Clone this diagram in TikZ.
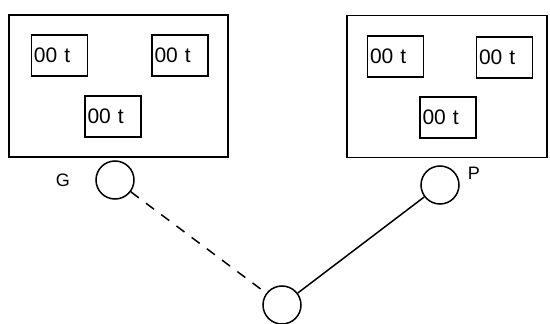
\documentclass[tikz,border=0pt]{standalone}
\usepackage{fontspec}
\setmainfont{Liberation Sans}
\usetikzlibrary{positioning}

\begin{document}
\begin{tikzpicture}[x=1pt,y=-1pt,line width=1.5pt,
    bigbox/.style={draw,minimum width=#1,minimum height=142pt,inner sep=0pt},
    unitbox/.style={draw,text width=51pt,inner xsep=2.5pt,minimum height=41pt,align=left,
      font=\fontsize{21}{24}\selectfont},
    station/.style={draw,circle,minimum size=38pt,inner sep=0pt},
    tag/.style={font=\fontsize{18}{21}\selectfont}]
  \useasboundingbox (0,0) rectangle (550,324);
  % left group
  \node[bigbox=219pt] (gbox) at (118.5,86) {};
  \node[unitbox] (g1) at (59.5,55.5) {00 t};
  \node[unitbox] (g2) at (180,55.5) {00 t};
  \node[unitbox] (g3) at (113,116.5) {00 t};
  % right group
  \node[bigbox=200pt] (pbox) at (447,86.5) {};
  \node[unitbox] (p1) at (395.5,56.5) {00 t};
  \node[unitbox] (p2) at (504.5,57.5) {00 t};
  \node[unitbox] (p3) at (448,117.5) {00 t};
  % stations
  \node[station] (g) at (115,180) {};
  \node[station] (p) at (440,185) {};
  \node[station] (c) at (282,305) {};
  \node[tag] (glabel) at (63,180) {G};
  \node[tag] (plabel) at (474,173) {P};
  \draw[dash pattern=on 10pt off 9pt] (g) -- (c);
  \draw (c) -- (p);
\end{tikzpicture}
\end{document}
